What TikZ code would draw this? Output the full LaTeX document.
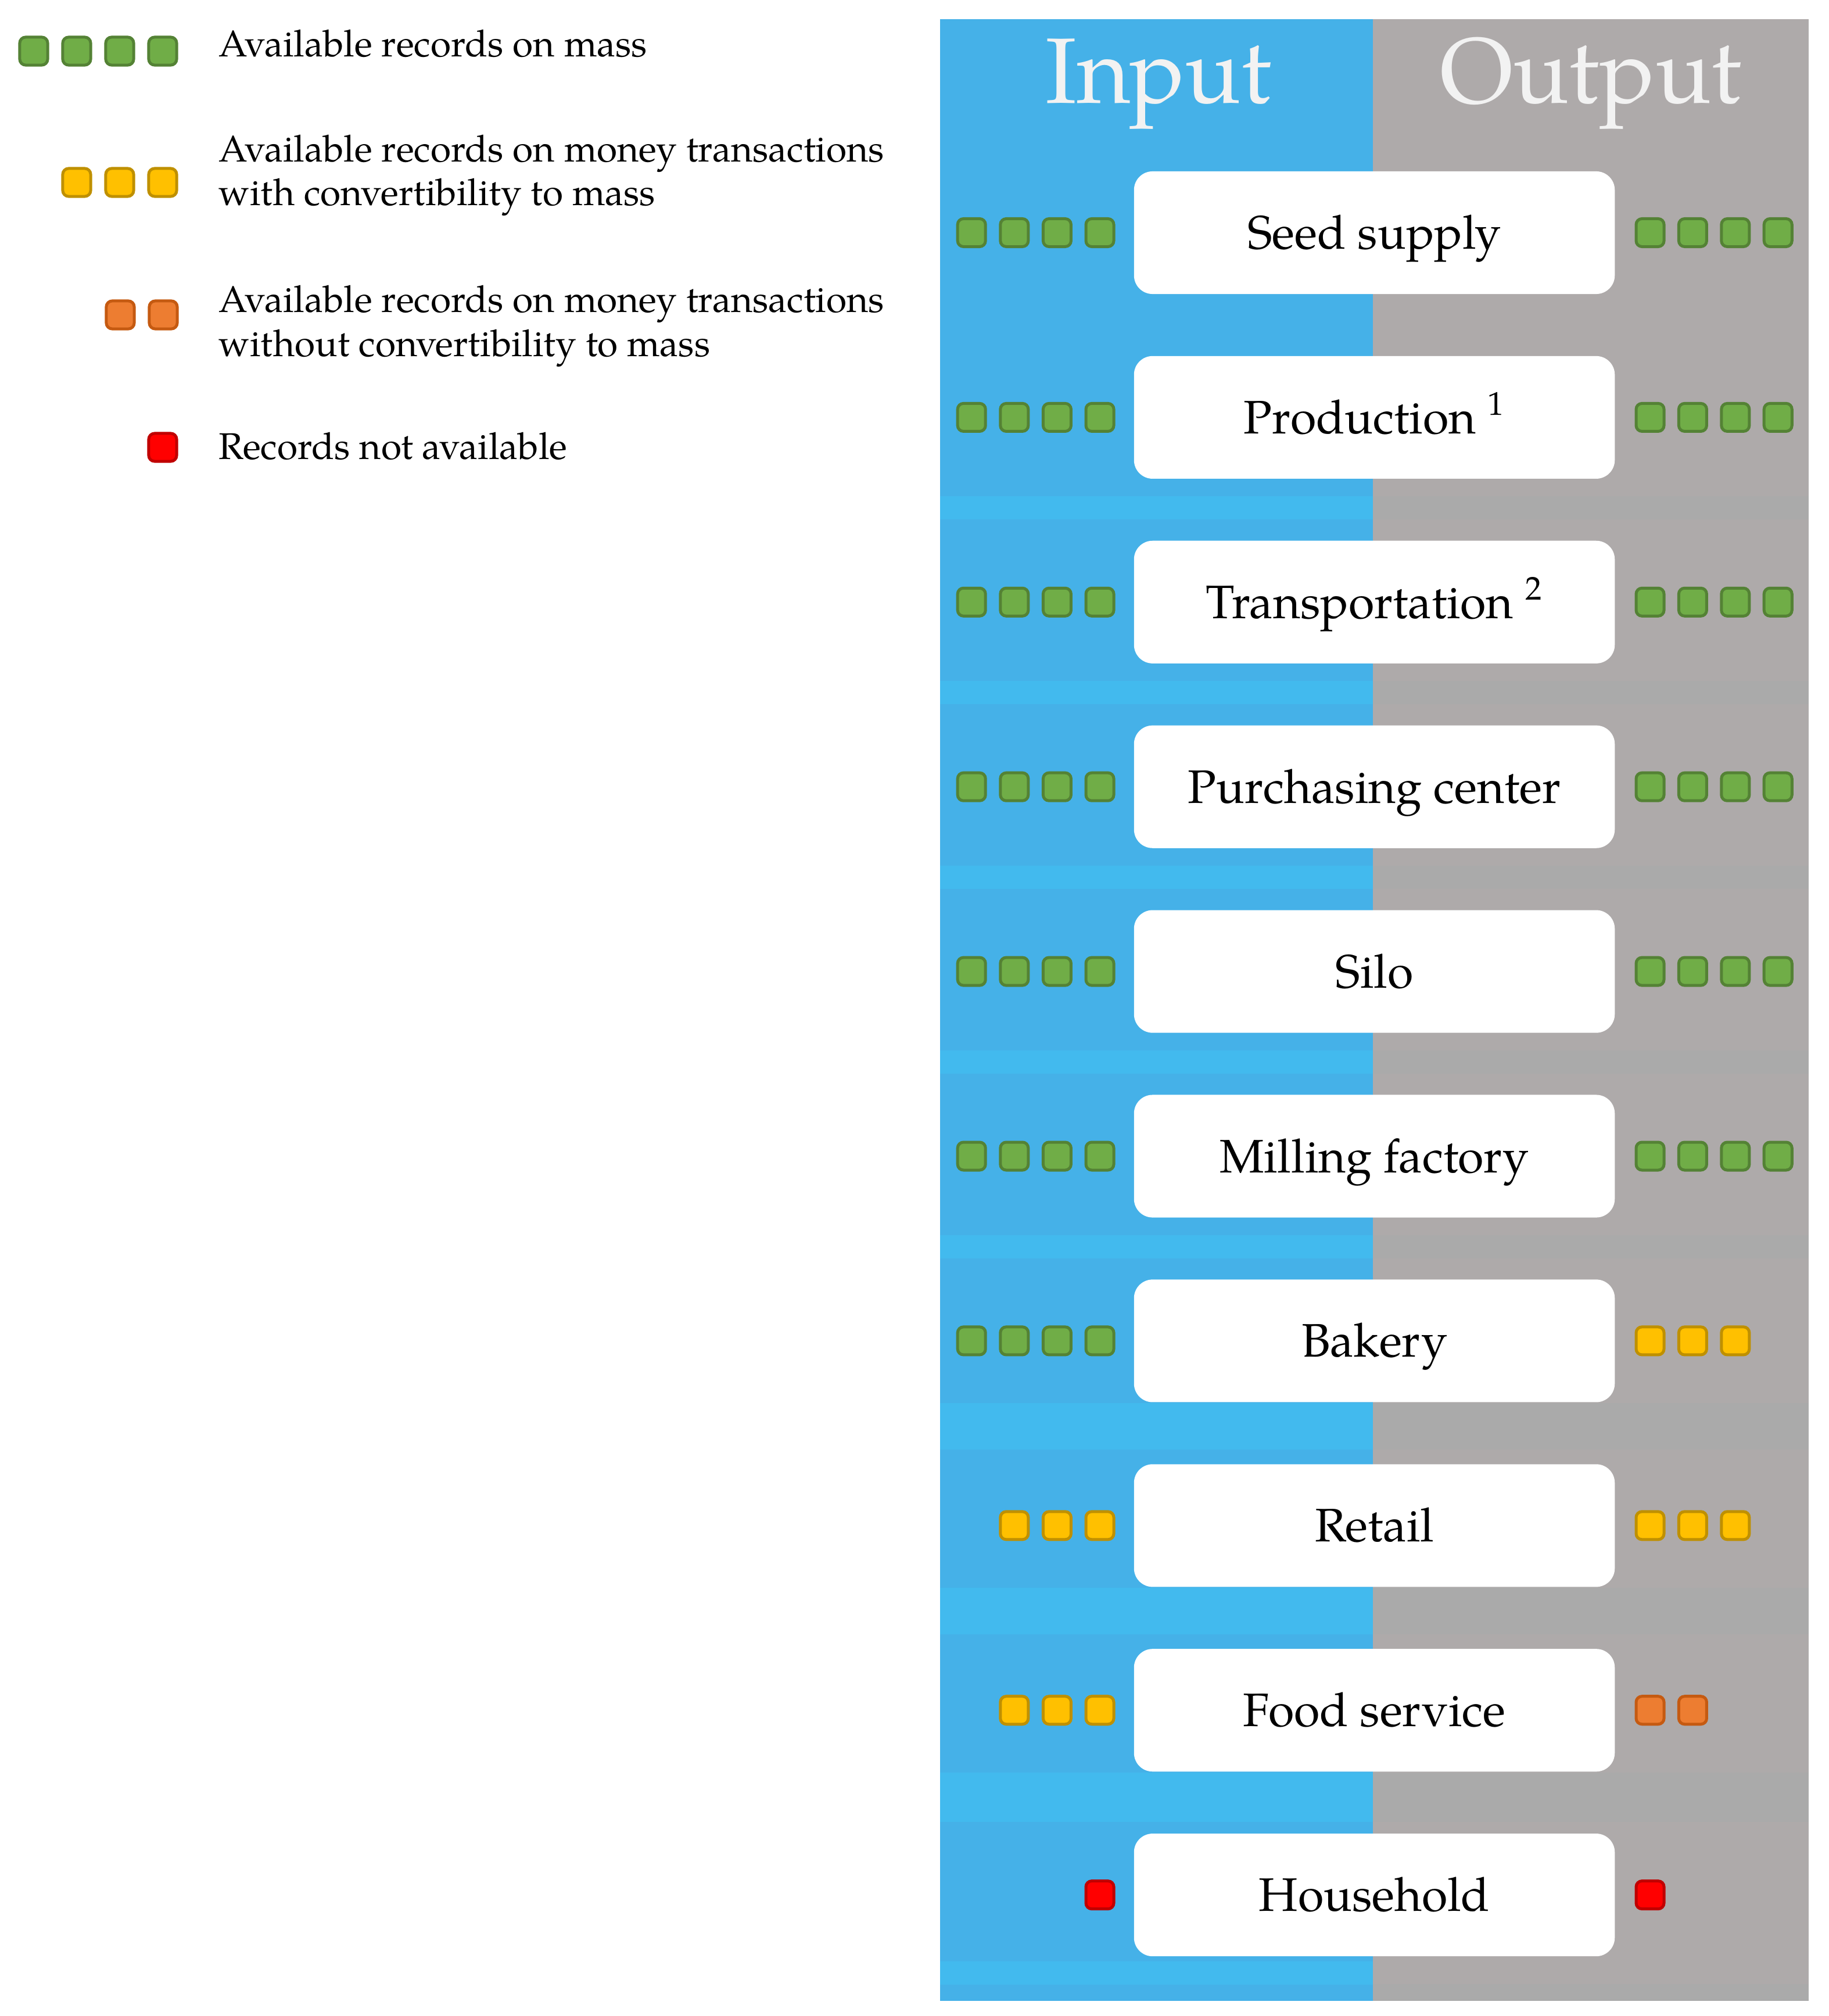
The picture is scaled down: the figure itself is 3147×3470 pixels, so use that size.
\documentclass[tikz,border=0pt]{standalone}
\usepackage{fontspec}
\setmainfont{texgyrepagella-regular.otf}
\definecolor{bluedark}{HTML}{45B1E8}
\definecolor{bluelight}{HTML}{42BAEE}
\definecolor{graylight}{HTML}{AEAAAA}
\definecolor{graydark}{HTML}{AAAAAA}
\definecolor{headgray}{HTML}{F2F2F2}
\definecolor{sqgreen}{HTML}{70AD47}
\definecolor{sqgreenB}{HTML}{548235}
\definecolor{sqyellow}{HTML}{FFC000}
\definecolor{sqyellowB}{HTML}{BF9000}
\definecolor{sqorange}{HTML}{ED7D31}
\definecolor{sqorangeB}{HTML}{C55A11}
\definecolor{sqred}{HTML}{FF0000}
\definecolor{sqredB}{HTML}{C00000}
\begin{document}
\begin{tikzpicture}[x=0.01cm,y=-0.01cm,
  sq/.style={draw, line width=0.05cm, rounded corners=0.1cm, minimum size=0.48cm, inner sep=0pt},
  stage/.style={fill=white, rounded corners=0.32cm, minimum width=8.27cm, minimum height=2.11cm,
    inner sep=0pt, text height=0.56cm, text depth=0pt, font=\fontsize{23}{28}\selectfont},
  legtext/.style={anchor=base west, inner sep=0pt, font=\fontsize{18.2}{21.6}\selectfont, align=left},
  head/.style={anchor=base, text=headgray, font=\fontsize{45.5}{54}\selectfont, inner sep=0pt}
]
\useasboundingbox (0,0) rectangle (3147,3470);
% panel backgrounds
\fill[bluedark] (1618,33) rectangle (2363,3444);
\fill[graylight] (2363,33) rectangle (3113,3444);
\foreach \a/\b in {854/894,1172/1212,1490/1530,1808/1848,2126/2166,2415/2495,2733/2813,3051/3136,3376/3416}
  \fill[bluelight] (1618,\a) rectangle (2363,\b);
\foreach \a/\b in {854/894,1172/1212,1490/1530,1808/1848,2126/2166,2415/2495,2733/2813,3051/3136,3415/3444}
  \fill[graydark] (2363,\a) rectangle (3113,\b);
% headers
\node[head] (hin) at (1994,178) {Input};
\node[head] (hout) at (2738,178) {Output};
% rows
\foreach \i/\lab/\nin/\ci/\nout/\co in {
 0/{Seed supply}/4/sqgreen/4/sqgreen,
 1/{Production \textsuperscript{1}}/4/sqgreen/4/sqgreen,
 2/{Transportation \textsuperscript{2}}/4/sqgreen/4/sqgreen,
 3/{Purchasing center}/4/sqgreen/4/sqgreen,
 4/{Silo}/4/sqgreen/4/sqgreen,
 5/{Milling factory}/4/sqgreen/4/sqgreen,
 6/{Bakery}/4/sqgreen/3/sqyellow,
 7/{Retail}/3/sqyellow/3/sqyellow,
 8/{Food service}/3/sqyellow/2/sqorange,
 9/{Household}/1/sqred/1/sqred}
{
 \pgfmathsetmacro\yc{400.5+317.9*\i}
 \node[stage] (stage\i) at (2365.5,\yc) {\lab};
 \foreach \k in {1,...,\nin}
   \node[sq, fill=\ci, draw=\ci B] (in\i-\k) at ({1893-73.6*(\k-1)},\yc) {};
 \foreach \k in {1,...,\nout}
   \node[sq, fill=\co, draw=\co B] (out\i-\k) at ({2840+73.4*(\k-1)},\yc) {};
}
% legend
\foreach \k/\x in {1/58,2/132,3/206,4/280}
  \node[sq, fill=sqgreen, draw=sqgreenB] (lg\k) at (\x,88) {};
\foreach \k/\x in {1/132,2/206,3/280}
  \node[sq, fill=sqyellow, draw=sqyellowB] (ly\k) at (\x,314) {};
\foreach \k/\x in {1/207,2/281}
  \node[sq, fill=sqorange, draw=sqorangeB] (lo\k) at (\x,542) {};
\node[sq, fill=sqred, draw=sqredB] (lr1) at (280,770) {};
\node[legtext] (t1) at (376,98) {Available records on mass};
\node[legtext] (t2) at (376,354) {Available records on money transactions\\with convertibility to mass};
\node[legtext] (t3) at (376,613) {Available records on money transactions\\without convertibility to mass};
\node[legtext] (t4) at (376,790) {Records not available};
\end{tikzpicture}
\end{document}
